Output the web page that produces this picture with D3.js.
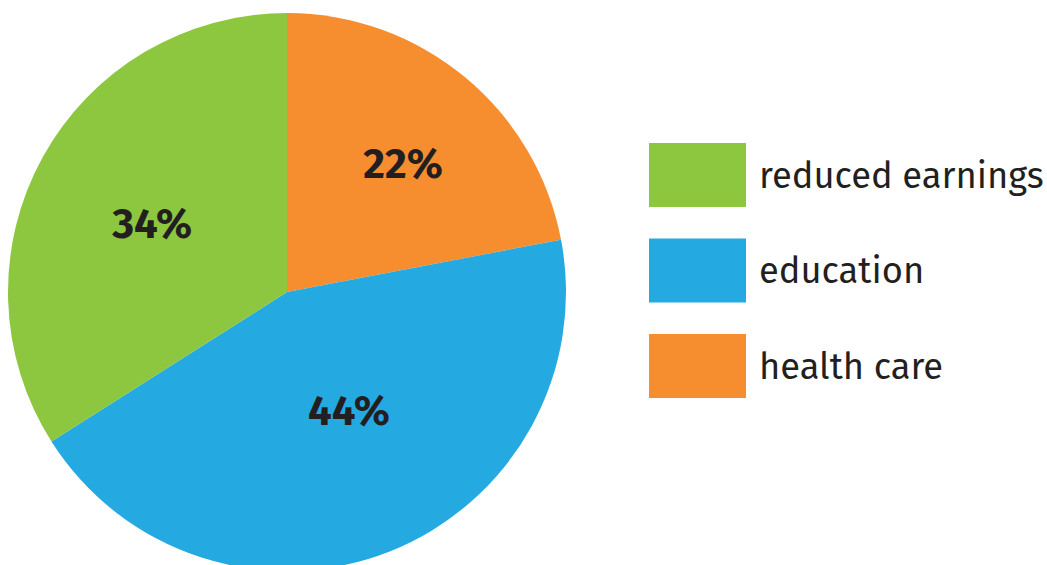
<!DOCTYPE html>
<html>
<head>
<meta charset="utf-8">
<script src="https://cdn.jsdelivr.net/npm/d3@7"></script>
<style>
  body { margin: 0; background: #fff; }
  svg { display: block; }
</style>
</head>
<body>
<div id="chart"></div>
<script>
// slice order, clockwise from 12 o'clock
const categories = ["health care", "education", "reduced earnings"];
const shares = [22, 44, 34];
const colors = ["#f68e2f", "#24a9e1", "#8dc63f"];
// legend is listed top to bottom
const legendOrder = ["reduced earnings", "education", "health care"];

const width = 1047, height = 565;
const cx = 287, cy = 292, radius = 279;
// label placement: share of radius and angle nudge (degrees)
const labelPos = [0.622, 0.48, 0.543];
const labelNudge = [2.4, -5.9, -1.7];

const svg = d3.select("#chart")
    .append("svg")
    .attr("width", width)
    .attr("height", height);

const data = categories.map((c, i) => ({ name: c, value: shares[i], color: colors[i] }));

const pie = d3.pie()
    .sort(null)
    .value(d => d.value);

const arc = d3.arc()
    .innerRadius(0)
    .outerRadius(radius);

const g = svg.append("g")
    .attr("transform", `translate(${cx},${cy})`);

const arcs = pie(data);

g.selectAll(".slice")
    .data(arcs)
    .enter()
    .append("path")
    .attr("class", "slice")
    .attr("d", arc)
    .attr("fill", d => d.data.color);

g.selectAll(".label")
    .data(arcs)
    .enter()
    .append("text")
    .attr("class", "label")
    .attr("transform", (d, i) => {
        const r = radius * labelPos[i];
        const a = (d.startAngle + d.endAngle) / 2 + labelNudge[i] * Math.PI / 180;
        return `translate(${Math.sin(a) * r},${-Math.cos(a) * r})`;
    })
    .attr("text-anchor", "middle")
    .attr("dy", "0.35em")
    .style("font-family", "'Fira Sans', 'Open Sans', sans-serif")
    .style("font-weight", "bold")
    .style("font-size", "42px")
    .attr("fill", "#231f20")
    .text(d => d.data.value + "%");

// legend
const y = d3.scalePoint()
    .domain(legendOrder)
    .range([143, 334]);

const legend = svg.selectAll(".legend")
    .data(legendOrder)
    .enter()
    .append("g")
    .attr("class", "legend")
    .attr("transform", d => `translate(649,${y(d)})`);

legend.append("rect")
    .attr("width", 97)
    .attr("height", 64)
    .attr("fill", d => colors[categories.indexOf(d)]);

legend.append("text")
    .attr("x", 110)
    .attr("y", 32)
    .attr("dy", "0.35em")
    .style("font-family", "'Fira Sans', 'Open Sans', sans-serif")
    .style("font-size", "36.3px")
    .attr("fill", "#231f20")
    .text(d => d);
</script>
</body>
</html>
